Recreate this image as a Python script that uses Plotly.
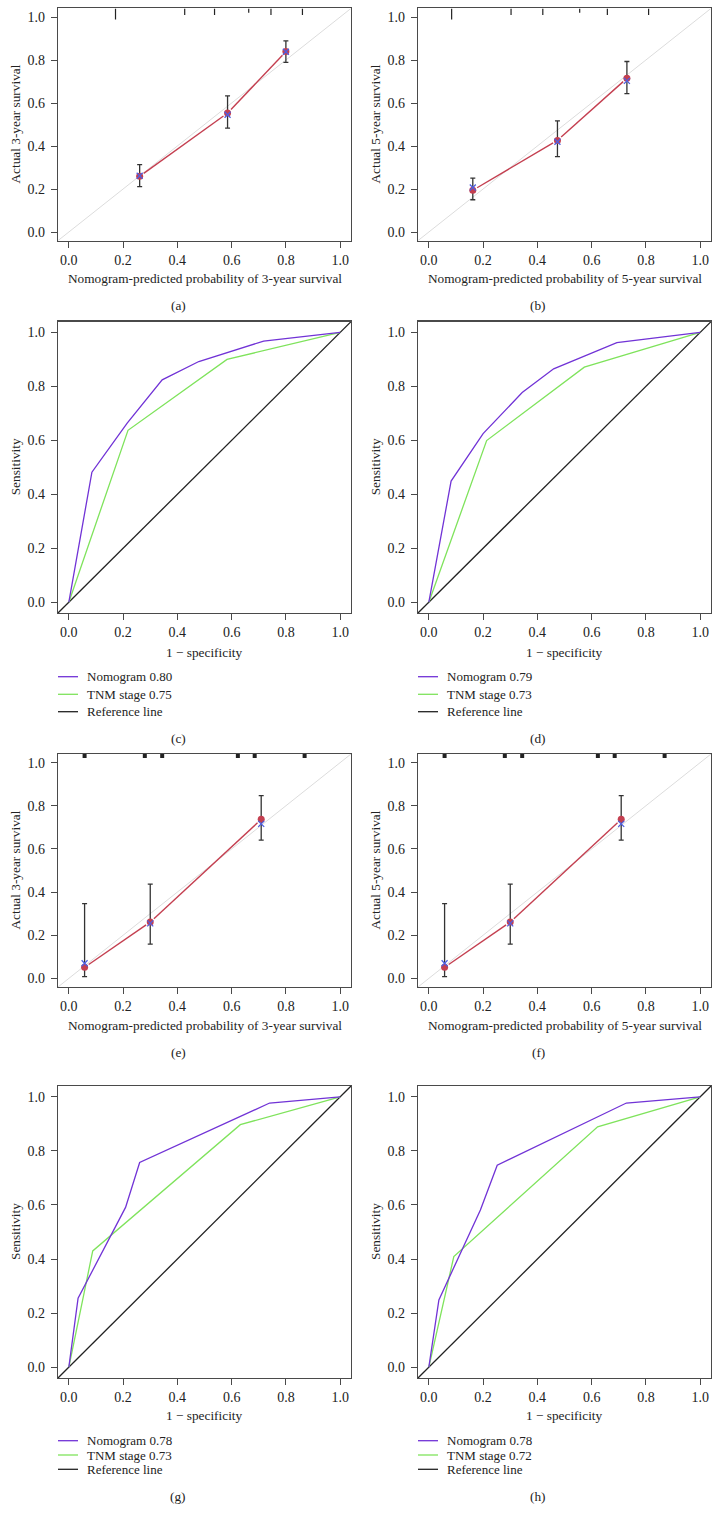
import plotly.graph_objects as go
import math

W, H = 720, 1523
AX_RANGE = [-0.04, 1.04]
TICKS = [0, 0.2, 0.4, 0.6, 0.8, 1.0]
TICK_TEXT = ["0.0", "0.2", "0.4", "0.6", "0.8", "1.0"]

# ---------------- calibration data ----------------
# (a) 3-year, training
cal_a_pred = [0.261, 0.585, 0.800]
cal_a_obs = [0.259, 0.553, 0.839]
cal_a_corr = [0.262, 0.545, 0.838]
cal_a_lo = [0.211, 0.483, 0.789]
cal_a_hi = [0.313, 0.633, 0.889]
rug_a_x = [0.172, 0.427, 0.537, 0.663, 0.745, 0.861]
rug_a_n = [5, 3, 3, 2, 3, 3]

# (b) 5-year, training
cal_b_pred = [0.162, 0.474, 0.730]
cal_b_obs = [0.194, 0.426, 0.715]
cal_b_corr = [0.207, 0.420, 0.703]
cal_b_lo = [0.150, 0.351, 0.644]
cal_b_hi = [0.251, 0.517, 0.793]
rug_b_x = [0.084, 0.303, 0.420, 0.556, 0.658, 0.810]
rug_b_n = [5, 3, 3, 2, 3, 3]

# (e) 3-year, validation
cal_e_pred = [0.058, 0.300, 0.709]
cal_e_obs = [0.051, 0.261, 0.737]
cal_e_corr = [0.070, 0.255, 0.716]
cal_e_lo = [0.008, 0.159, 0.641]
cal_e_hi = [0.346, 0.437, 0.847]
rug_e_x = [0.058, 0.280, 0.344, 0.623, 0.685, 0.869]
rug_e_n = [2, 2, 2, 2, 2, 2]

# (f) 5-year, validation
cal_f_pred = [0.058, 0.300, 0.709]
cal_f_obs = [0.051, 0.261, 0.737]
cal_f_corr = [0.070, 0.255, 0.716]
cal_f_lo = [0.008, 0.159, 0.641]
cal_f_hi = [0.346, 0.437, 0.847]
rug_f_x = [0.058, 0.280, 0.344, 0.623, 0.685, 0.869]
rug_f_n = [2, 2, 2, 2, 2, 2]

# ---------------- ROC data ----------------
roc_c_nomo_x = [0, 0.085, 0.215, 0.344, 0.479, 0.718, 1.0]
roc_c_nomo_y = [0, 0.482, 0.664, 0.824, 0.892, 0.968, 1.0]
roc_c_tnm_x = [0, 0.218, 0.583, 1.0]
roc_c_tnm_y = [0, 0.637, 0.900, 1.0]

roc_d_nomo_x = [0, 0.082, 0.200, 0.344, 0.460, 0.693, 1.0]
roc_d_nomo_y = [0, 0.449, 0.625, 0.777, 0.865, 0.962, 1.0]
roc_d_tnm_x = [0, 0.213, 0.573, 1.0]
roc_d_tnm_y = [0, 0.599, 0.871, 1.0]

roc_g_nomo_x = [0, 0.034, 0.209, 0.261, 0.740, 1.0]
roc_g_nomo_y = [0, 0.255, 0.591, 0.757, 0.977, 1.0]
roc_g_tnm_x = [0, 0.088, 0.632, 1.0]
roc_g_tnm_y = [0, 0.430, 0.897, 1.0]

roc_h_nomo_x = [0, 0.037, 0.190, 0.252, 0.728, 1.0]
roc_h_nomo_y = [0, 0.249, 0.581, 0.747, 0.977, 1.0]
roc_h_tnm_x = [0, 0.092, 0.622, 1.0]
roc_h_tnm_y = [0, 0.409, 0.889, 1.0]

legend_c = ["Nomogram 0.80", "TNM stage 0.75", "Reference line"]
legend_d = ["Nomogram 0.79", "TNM stage 0.73", "Reference line"]
legend_g = ["Nomogram 0.78", "TNM stage 0.73", "Reference line"]
legend_h = ["Nomogram 0.78", "TNM stage 0.72", "Reference line"]

ref_line = [-0.04, 1.04]

# ---------------- styling ----------------
FONT = "Liberation Serif, Times New Roman, serif"
TXT = "#222222"
AXC = "#4a4a4a"
RED = "#c43f50"
BLUE = "#4d5fe0"
PURPLE = "#7133d6"
GREEN = "#7fe35c"

X_COLS = [(58, 351), (418, 711)]
ROWS = [(8.4, 240.6), (321.6, 613.0), (754.0, 987.0), (1086.0, 1378.0)]

fig = go.Figure()
annotations = []
shapes = []


def py(px):
    return 1 - px / H


def px_x(px):
    return px / W


def axis_names(i):
    return ("x" if i == 1 else f"x{i}"), ("y" if i == 1 else f"y{i}")


def setup_axes(i, col, row):
    xa, ya = axis_names(i)
    x0, x1 = X_COLS[col]
    top, bot = ROWS[row]
    base = dict(range=AX_RANGE, tickvals=TICKS, ticktext=TICK_TEXT, ticks="outside",
                ticklen=6, tickwidth=1, tickcolor=AXC, showline=True, linecolor=AXC,
                linewidth=1.2, mirror=True, showgrid=False, zeroline=False,
                tickfont=dict(family=FONT, size=14, color=TXT), fixedrange=True)
    xkey = "xaxis" if i == 1 else f"xaxis{i}"
    ykey = "yaxis" if i == 1 else f"yaxis{i}"
    fig.layout[xkey] = dict(base, domain=[px_x(x0), px_x(x1)], anchor=ya)
    fig.layout[ykey] = dict(base, domain=[py(bot), py(top)], anchor=xa, ticklabelstandoff=3)


def add_titles(col, row, xtitle, ytitle, xt_px, tag, tag_px):
    x0, x1 = X_COLS[col]
    top, bot = ROWS[row]
    annotations.append(dict(text=xtitle, xref="paper", yref="paper", x=px_x((x0 + x1) / 2),
                            y=py(xt_px), showarrow=False, xanchor="center", yanchor="middle",
                            font=dict(family=FONT, size=13.3, color=TXT)))
    annotations.append(dict(text=ytitle, xref="paper", yref="paper", x=px_x(15 + 360 * col),
                            y=py((top + bot) / 2), showarrow=False, textangle=-90,
                            xanchor="center", yanchor="middle",
                            font=dict(family=FONT, size=13.3, color=TXT)))
    annotations.append(dict(text=tag, xref="paper", yref="paper", x=px_x(178 + 360 * col),
                            y=py(tag_px), showarrow=False, xanchor="center", yanchor="middle",
                            font=dict(family=FONT, size=13.3, color=TXT)))


def calib_panel(i, col, row, pred, obs, corr, lo, hi, rug_x, rug_n, rug_w, rug_unit):
    xa, ya = axis_names(i)
    setup_axes(i, col, row)
    # ideal line
    fig.add_trace(go.Scatter(x=ref_line, y=ref_line, mode="lines", xaxis=xa, yaxis=ya,
                             line=dict(color="#dcdcdc", width=1), hoverinfo="skip"))
    # histogram of predictions at top
    rx, ry = [], []
    for xv, n in zip(rug_x, rug_n):
        rx += [xv, xv, None]
        ry += [AX_RANGE[1], AX_RANGE[1] - n * rug_unit, None]
    fig.add_trace(go.Scatter(x=rx, y=ry, mode="lines", xaxis=xa, yaxis=ya,
                             line=dict(color="#222222", width=rug_w), hoverinfo="skip"))
    # connecting line with small gaps at points (type = "b")
    sx = (X_COLS[col][1] - X_COLS[col][0]) / (AX_RANGE[1] - AX_RANGE[0])
    sy = (ROWS[row][1] - ROWS[row][0]) / (AX_RANGE[1] - AX_RANGE[0])
    gap = 5.0
    lx, ly = [], []
    for k in range(len(pred) - 1):
        dx, dy = pred[k + 1] - pred[k], obs[k + 1] - obs[k]
        L = math.hypot(dx * sx, dy * sy)
        t = gap / L
        lx += [pred[k] + t * dx, pred[k + 1] - t * dx, None]
        ly += [obs[k] + t * dy, obs[k + 1] - t * dy, None]
    fig.add_trace(go.Scatter(x=lx, y=ly, mode="lines", xaxis=xa, yaxis=ya,
                             line=dict(color=RED, width=1.4), hoverinfo="skip"))
    # error bars + observed points
    fig.add_trace(go.Scatter(
        x=pred, y=obs, mode="markers", xaxis=xa, yaxis=ya,
        marker=dict(color=RED, size=7, symbol="circle"),
        error_y=dict(type="data", symmetric=False,
                     array=[h - o for h, o in zip(hi, obs)],
                     arrayminus=[o - l for o, l in zip(obs, lo)],
                     color="#333333", thickness=1.3, width=2.5)))
    # bias-corrected estimates
    fig.add_trace(go.Scatter(x=pred, y=corr, mode="markers", xaxis=xa, yaxis=ya,
                             marker=dict(color=BLUE, size=6, symbol="x-thin",
                                         line=dict(color=BLUE, width=1.3))))


def roc_panel(i, col, row, nx, ny, tx, ty, labels, leg_px):
    xa, ya = axis_names(i)
    setup_axes(i, col, row)
    fig.add_trace(go.Scatter(x=ref_line, y=ref_line, mode="lines", xaxis=xa, yaxis=ya,
                             line=dict(color="#222222", width=1.3), hoverinfo="skip"))
    fig.add_trace(go.Scatter(x=tx, y=ty, mode="lines", xaxis=xa, yaxis=ya,
                             line=dict(color=GREEN, width=1.3), hoverinfo="skip"))
    fig.add_trace(go.Scatter(x=nx, y=ny, mode="lines", xaxis=xa, yaxis=ya,
                             line=dict(color=PURPLE, width=1.3), hoverinfo="skip"))
    cols = [PURPLE, GREEN, "#222222"]
    base_x = 360 * col
    for lab, c, ypx in zip(labels, cols, leg_px):
        shapes.append(dict(type="line", xref="paper", yref="paper",
                           x0=px_x(base_x + 58), x1=px_x(base_x + 78),
                           y0=py(ypx), y1=py(ypx), line=dict(color=c, width=1.3)))
        annotations.append(dict(text=lab, xref="paper", yref="paper", x=px_x(base_x + 85),
                                y=py(ypx), showarrow=False, xanchor="left", yanchor="middle",
                                font=dict(family=FONT, size=13, color=TXT)))


# calibration rows
unit_ab = 2.2 / ((ROWS[0][1] - ROWS[0][0]) / 1.08)
unit_ef = 2.0 / ((ROWS[2][1] - ROWS[2][0]) / 1.08)
calib_panel(1, 0, 0, cal_a_pred, cal_a_obs, cal_a_corr, cal_a_lo, cal_a_hi,
            rug_a_x, rug_a_n, 1.2, unit_ab)
calib_panel(2, 1, 0, cal_b_pred, cal_b_obs, cal_b_corr, cal_b_lo, cal_b_hi,
            rug_b_x, rug_b_n, 1.2, unit_ab)
add_titles(0, 0, "Nomogram-predicted probability of 3-year survival", "Actual 3-year survival", 278, "(a)", 305)
add_titles(1, 0, "Nomogram-predicted probability of 5-year survival", "Actual 5-year survival", 278, "(b)", 305)

roc_panel(3, 0, 1, roc_c_nomo_x, roc_c_nomo_y, roc_c_tnm_x, roc_c_tnm_y, legend_c, [676.7, 694.3, 711.7])
roc_panel(4, 1, 1, roc_d_nomo_x, roc_d_nomo_y, roc_d_tnm_x, roc_d_tnm_y, legend_d, [676.7, 694.3, 711.7])
add_titles(0, 1, "1 \u2212 specificity", "Sensitivity", 652, "(c)", 738.5)
add_titles(1, 1, "1 \u2212 specificity", "Sensitivity", 652, "(d)", 738.5)

calib_panel(5, 0, 2, cal_e_pred, cal_e_obs, cal_e_corr, cal_e_lo, cal_e_hi,
            rug_e_x, rug_e_n, 4, unit_ef)
calib_panel(6, 1, 2, cal_f_pred, cal_f_obs, cal_f_corr, cal_f_lo, cal_f_hi,
            rug_f_x, rug_f_n, 4, unit_ef)
add_titles(0, 2, "Nomogram-predicted probability of 3-year survival", "Actual 3-year survival", 1025, "(e)", 1052)
add_titles(1, 2, "Nomogram-predicted probability of 5-year survival", "Actual 5-year survival", 1025, "(f)", 1052)

roc_panel(7, 0, 3, roc_g_nomo_x, roc_g_nomo_y, roc_g_tnm_x, roc_g_tnm_y, legend_g, [1440.7, 1455.0, 1469.3])
roc_panel(8, 1, 3, roc_h_nomo_x, roc_h_nomo_y, roc_h_tnm_x, roc_h_tnm_y, legend_h, [1440.7, 1455.0, 1469.3])
add_titles(0, 3, "1 \u2212 specificity", "Sensitivity", 1415, "(g)", 1496)
add_titles(1, 3, "1 \u2212 specificity", "Sensitivity", 1415, "(h)", 1496)

fig.update_layout(width=W, height=H, margin=dict(l=0, r=0, t=0, b=0),
                  paper_bgcolor="white", plot_bgcolor="white", showlegend=False,
                  annotations=annotations, shapes=shapes,
                  font=dict(family=FONT, size=13, color=TXT))
fig.update_traces(showlegend=False)

fig.write_html("out.html",
               config={"displayModeBar": False, "staticPlot": True},
               post_script="document.body.style.margin='0';document.body.style.padding='0';"
                           "document.documentElement.style.overflow='hidden';")
